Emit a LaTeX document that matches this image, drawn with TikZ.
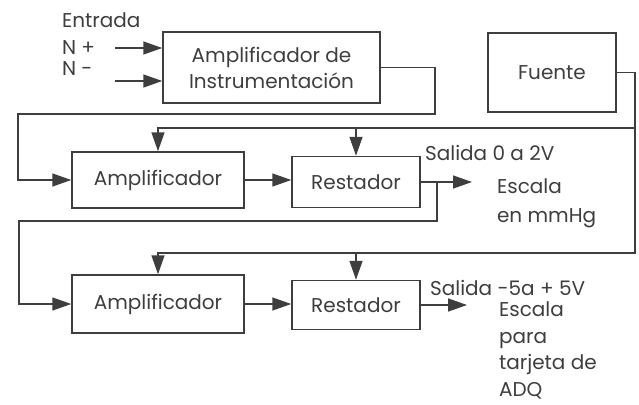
\documentclass[tikz,border=0pt]{standalone}
\usepackage{fontspec}
\setmainfont{Poppins}
\usepackage{tikz}
\usetikzlibrary{arrows.meta}
\definecolor{ink}{RGB}{62,62,62}

\begin{document}
\begin{tikzpicture}[x=1pt, y=-1pt, every node/.style={font=\fontsize{20}{27}\selectfont, text=ink},
	>={Triangle[length=19pt, width=13pt]}, line width=1.5pt, draw=ink,
	box/.style={draw=ink, line width=1.5pt, align=center, inner sep=0pt}]
	\useasboundingbox (0,0) rectangle (639,404);
	\node[anchor=west] (entrada) at (58,20) {Entrada};
	\node[anchor=west] (np) at (58,48) {N +};
	\node[anchor=west] (nm) at (58,69) {N -};
	\coordinate (inp) at (115,48);
	\coordinate (inm) at (115,81);
	\node[box, minimum width=217pt, minimum height=71pt] (ai) at (271.5,67.5) {Amplificador de\\[-1pt]Instrumentación};
	\node[box, minimum width=128pt, minimum height=79pt] (fuente) at (552,72.5) {Fuente};
	\node[box, minimum width=172pt, minimum height=56pt] (amp1) at (158,180) {Amplificador};
	\node[box, minimum width=128pt, minimum height=51pt] (res1) at (356,182) {Restador};
	\node[box, minimum width=172pt, minimum height=58pt] (amp2) at (158,304) {Amplificador};
	\node[box, minimum width=128pt, minimum height=49pt] (res2) at (356,305) {Restador};
	\coordinate (c1) at (435,114);
	\coordinate (c2) at (18,114);
	\coordinate (pw1) at (635,128);
	\coordinate (pw2) at (635,253);
	\coordinate (out1) at (472,182);
	\coordinate (br1) at (437,182);
	\coordinate (c3) at (19,221);
	\coordinate (out2) at (467,305);
	\draw[->] (inp) -- (ai.west |- inp);
	\draw[->] (inm) -- (ai.west |- inm);
	\draw[->] (ai.east) -| (c1) -- (c2) |- (amp1.west);
	\draw[->] (fuente.east) -| (pw2) -| (amp2.north);
	\draw[->] (pw1) -| (amp1.north);
	\draw[->] (res1.north |- pw1) -- (res1.north);
	\draw[->] (res2.north |- pw2) -- (res2.north);
	\draw[->] (amp1.east) -- (res1.west |- amp1.east);
	\draw[->] (res1.east) -- (out1);
	\draw[->] (br1) |- (c3) |- (amp2.west);
	\draw[->] (amp2.east) -- (res2.west |- amp2.east);
	\draw[->] (res2.east) -- (out2);
	\node[anchor=west] (sal1) at (421,153) {Salida 0 a 2V};
	\node[anchor=north west, align=left, font=\fontsize{20}{29}\selectfont] (esc1) at (493,175) {Escala\\en mmHg};
	\node[anchor=west] (sal2) at (426,288) {Salida -5a + 5V};
	\node[anchor=north west, align=left, font=\fontsize{20}{26.5}\selectfont] (esc2) at (495,298) {Escala\\para\\tarjeta de\\ADQ};
\end{tikzpicture}
\end{document}
